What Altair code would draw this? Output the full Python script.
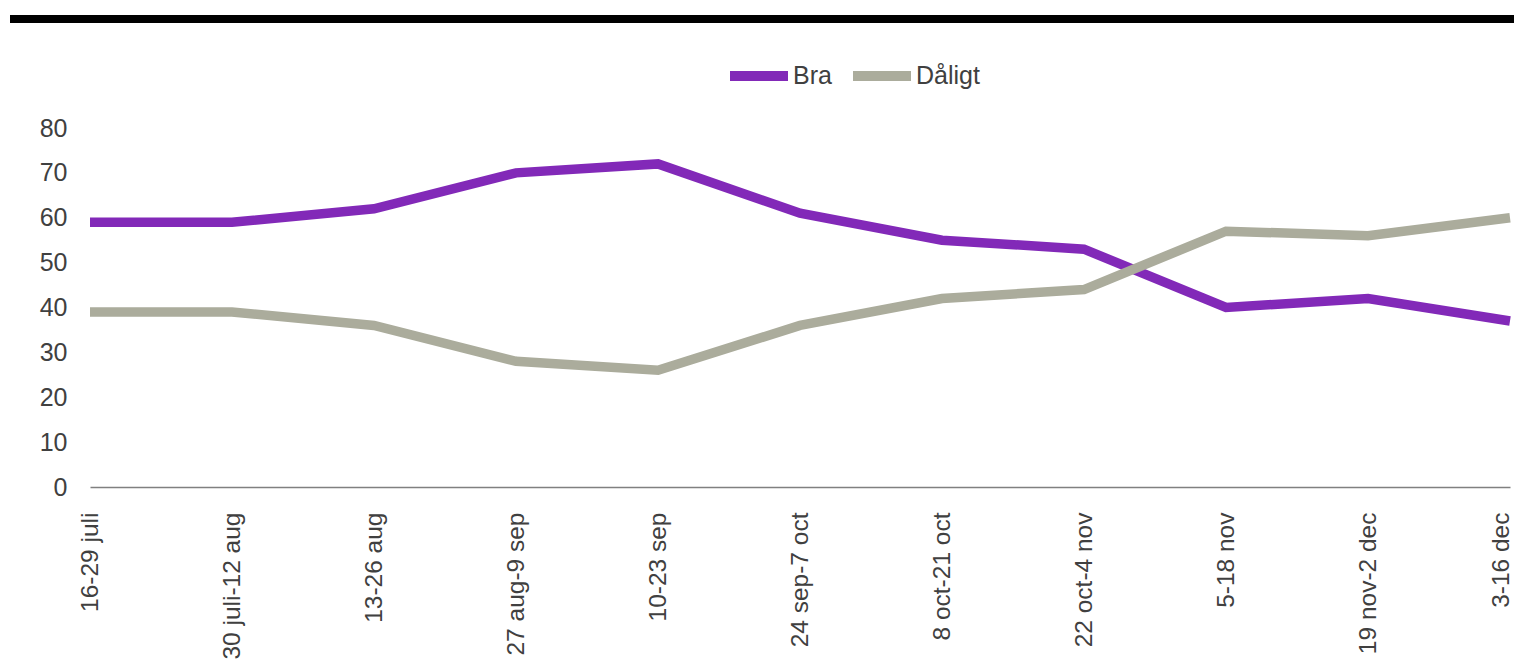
import altair as alt
import pandas as pd

periods = ["16-29 juli", "30 juli-12 aug", "13-26 aug", "27 aug-9 sep", "10-23 sep",
           "24 sep-7 oct", "8 oct-21 oct", "22 oct-4 nov", "5-18 nov", "19 nov-2 dec", "3-16 dec"]
bra = [59, 59, 62, 70, 72, 61, 55, 53, 40, 42, 37]
daligt = [39, 39, 36, 28, 26, 36, 42, 44, 57, 56, 60]
series = ["Bra", "Dåligt"]
colors = ["#8229B8", "#ABAC9C"]
y_ticks = [0, 10, 20, 30, 40, 50, 60, 70, 80]

rows = []
for p, b, d in zip(periods, bra, daligt):
    rows.append({"period": p, "serie": "Bra", "value": b})
    rows.append({"period": p, "serie": "Dåligt", "value": d})
df = pd.DataFrame(rows)

FONT = "Liberation Sans"
TXT = "#404040"

line = alt.Chart(df).mark_line(strokeWidth=9.5).encode(
    x=alt.X("period:N", sort=periods, title=None,
            scale=alt.Scale(type="point", padding=0),
            axis=alt.Axis(labelAngle=-90, ticks=False, labelPadding=25,
                          labelOffset={"expr": "datum.value == '3-16 dec' ? -9 : 0"},
                          domainColor="#808080", domainWidth=1.5,
                          labelFontSize=24.5, labelColor=TXT, labelFont=FONT)),
    y=alt.Y("value:Q", title=None,
            scale=alt.Scale(domain=[0, 80], nice=False),
            axis=alt.Axis(values=y_ticks, domain=False, ticks=False, grid=False,
                          labelPadding=23, labelFontSize=25, labelColor=TXT, labelFont=FONT)),
    color=alt.Color("serie:N", title=None,
                    scale=alt.Scale(domain=series, range=colors),
                    legend=alt.Legend(orient="none", legendX=635, legendY=-86,
                                      direction="horizontal", symbolType="stroke",
                                      symbolSize=3364, symbolStrokeWidth=10,
                                      labelFontSize=25, labelColor=TXT, labelFont=FONT,
                                      labelOffset=0, columnPadding=1, padding=0,
                                      gridAlign="none")),
)

rule = alt.Chart(pd.DataFrame({"a": [0]})).mark_rule(color="black", strokeWidth=8).encode(
    x=alt.value(-80), x2=alt.value(1424), y=alt.value(-109)
)

chart = alt.layer(rule, line).properties(
    width=1420, height=359, autosize="none",
    padding={"left": 82, "top": 120, "right": 4, "bottom": 174},
).configure_view(stroke=None)

chart.save("out.html", embed_options={"renderer": "svg", "actions": False})
